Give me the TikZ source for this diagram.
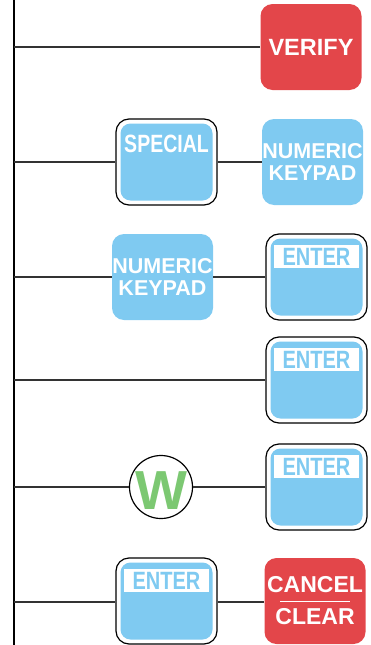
\documentclass[tikz,border=0pt]{standalone}
\usepackage{fontspec}
\usepackage{graphicx}
\setmainfont{Liberation Sans}
\definecolor{keyblue}{HTML}{7FCAF1}
\definecolor{keyred}{HTML}{E3464A}
\definecolor{keygreen}{HTML}{7CC872}
\tikzset{
    flatkey/.style={rounded corners=12pt, minimum width=101pt, minimum height=86pt, inner sep=0pt,
        text=white, align=center, font=\bfseries\fontsize{21.5}{22}\selectfont},
    bluekey/.style={flatkey, fill=keyblue},
    redkey/.style={flatkey, fill=keyred},
    framedkey/.style={draw=black, line width=1.2pt, fill=white, rounded corners=13pt,
        minimum width=101pt, minimum height=86pt, inner sep=0pt,
        path picture={\fill[keyblue, rounded corners=10pt]
            ([shift={(4.5pt,-4.5pt)}]path picture bounding box.north west) rectangle
            ([shift={(-4.5pt,4.5pt)}]path picture bounding box.south east);}},
    keystrip/.style={fill=white, text=keyblue, minimum width=85pt, minimum height=23pt, inner sep=0pt,
        font=\bfseries\fontsize{25}{25}\selectfont},
    keytext/.style={text=white, inner sep=0pt, font=\bfseries\fontsize{25}{25}\selectfont},
    wire/.style={draw=black!80, line width=1.2pt},
}
\begin{document}
\begin{tikzpicture}[x=1pt, y=-1pt]
        \useasboundingbox (0,0) rectangle (370,645);
        % spine on the left
        \coordinate (top) at (13.5,0);
        \coordinate (bottom) at (13.5,645);
        \draw[line width=2pt] (top) -- (bottom);
        % Row 1: verify
        \coordinate (s1) at (13.5,47);
        \node[redkey, font=\bfseries\fontsize{23.5}{24}\selectfont] (verify) at (311,47) {VERIFY};
        \draw[wire] (s1) -- (verify);
        % Row 2: special, numeric keypad
        \coordinate (s2) at (13.5,162);
        \node[framedkey] (special) at (166.5,162) {};
        \node[keytext] (specialtxt) at ([yshift=-25pt]special.north) {\scalebox{0.78}[1]{SPECIAL}};
        \node[bluekey] (numpadA) at (312.5,162) {NUMERIC\\KEYPAD};
        \draw[wire] (s2) -- (special);
        \draw[wire] (special) -- (numpadA);
        % Row 3: numeric keypad, enter
        \coordinate (s3) at (13.5,277);
        \node[bluekey] (numpadB) at (162.5,277) {NUMERIC\\KEYPAD};
        \node[framedkey] (enterA) at (316.5,277) {};
        \node[keystrip] (enterAtxt) at ([yshift=-23.5pt]enterA.north) {\scalebox{0.8}[1]{ENTER}};
        \draw[wire] (s3) -- (numpadB);
        \draw[wire] (numpadB) -- (enterA);
        % Row 4: enter
        \coordinate (s4) at (13.5,380);
        \node[framedkey] (enterB) at (316.5,380) {};
        \node[keystrip] (enterBtxt) at ([yshift=-23.5pt]enterB.north) {\scalebox{0.8}[1]{ENTER}};
        \draw[wire] (s4) -- (enterB);
        % Row 5: W, enter
        \coordinate (s5) at (13.5,487);
        \node[circle, draw=black, line width=1.2pt, fill=white, minimum size=63pt, inner sep=0pt] (wkey) at (161,487) {};
        \node[inner sep=0pt, text=keygreen, font=\bfseries\fontsize{55}{55}\selectfont] (wtxt)
            at ([yshift=-4pt]wkey.center) {W};
        \node[framedkey] (enterC) at (316.5,487) {};
        \node[keystrip] (enterCtxt) at ([yshift=-23.5pt]enterC.north) {\scalebox{0.8}[1]{ENTER}};
        \draw[wire] (s5) -- (wkey);
        \draw[wire] (wkey) -- (enterC);
        % Row 6: enter, cancel / clear
        \coordinate (s6) at (13.5,602);
        \node[framedkey] (enterD) at (166.5,601) {};
        \node[keystrip] (enterDtxt) at ([yshift=-23.5pt]enterD.north) {\scalebox{0.8}[1]{ENTER}};
        \node[redkey, font=\bfseries\fontsize{23}{32}\selectfont] (cancel) at (315,601) {CANCEL\\CLEAR};
        \draw[white, line width=1pt] ([xshift=-35pt]cancel.center) -- ([xshift=35pt]cancel.center);
        \draw[wire] (s6) -- (s6 -| enterD.west);
        \draw[wire] (enterD.east |- s6) -- (s6 -| cancel.west);
    \end{tikzpicture}
\end{document}
